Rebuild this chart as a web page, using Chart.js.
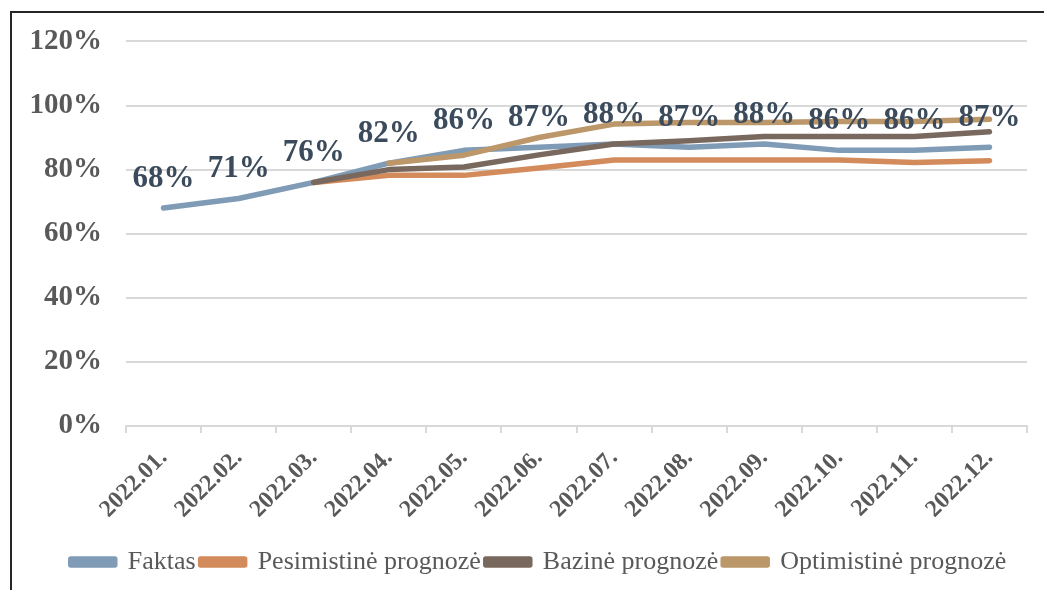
<!DOCTYPE html>
<html>
<head>
<meta charset="utf-8">
<script src="https://cdn.jsdelivr.net/npm/chart.js@4.4.1/dist/chart.umd.min.js"></script>
<style>
  html, body { margin: 0; padding: 0; background: #fff; }
  body { width: 1044px; height: 590px; position: relative; overflow: hidden; }
  #frame {
    position: absolute; left: 10px; top: 11px; width: 1100px; height: 700px;
    border-top: 2px solid #262626; border-left: 2px solid #262626;
  }
  #wrap { position: absolute; left: 0; top: 0; width: 1044px; height: 590px; }
</style>
</head>
<body>
<div id="frame"></div>
<div id="wrap"><canvas id="chart"></canvas></div>
<script>
const labels = ["2022.01.", "2022.02.", "2022.03.", "2022.04.", "2022.05.", "2022.06.",
  "2022.07.", "2022.08.", "2022.09.", "2022.10.", "2022.11.", "2022.12."];

const faktas = [68, 71, 76, 82, 86, 87, 88, 87, 88, 86, 86, 87];
const pesimistine = [null, null, 76, 78.2, 78.2, 80.5, 83, 83, 83, 83, 82.2, 82.8];
const bazine = [null, null, 76, 80, 80.8, 84.6, 88, 89, 90.3, 90.3, 90.3, 91.8];
const optimistine = [null, null, null, 82, 84.5, 90, 94.2, 94.7, 94.7, 95, 95, 95.7];

const yTicks = [0, 20, 40, 60, 80, 100, 120];

const grey = "#595959";
const gridColor = "#d9d9d9";

// value labels above the "Faktas" line
const valueLabels = {
  id: "valueLabels",
  afterDatasetsDraw(chart) {
    const meta = chart.getDatasetMeta(0);
    const ctx = chart.ctx;
    ctx.save();
    ctx.font = "bold 31px 'Liberation Serif'";
    ctx.fillStyle = "#3b4b5c";
    ctx.textAlign = "center";
    ctx.textBaseline = "alphabetic";
    meta.data.forEach((point, i) => {
      ctx.fillText(Math.round(faktas[i]) + "%", point.x, point.y - 21);
    });
    ctx.restore();
  }
};

// legend sits a little right of the canvas centre, like in the original
const legendShift = {
  id: "legendShift",
  afterLayout(chart) {
    chart.legend.left += 25;
    chart.legend.right += 25;
  }
};

const lineStyle = {
  borderWidth: 5.5,
  pointRadius: 0,
  pointHoverRadius: 0,
  tension: 0,
  fill: false,
  borderCapStyle: "round",
  borderJoinStyle: "round"
};

new Chart(document.getElementById("chart").getContext("2d"), {
  type: "line",
  data: {
    labels,
    datasets: [
      { label: "Faktas", data: faktas, borderColor: "#7f9bb5", backgroundColor: "#7f9bb5", order: 4, ...lineStyle },
      { label: "Pesimistinė prognozė", data: pesimistine, borderColor: "#d38b5c", backgroundColor: "#d38b5c", order: 3, ...lineStyle },
      { label: "Bazinė prognozė", data: bazine, borderColor: "#78685e", backgroundColor: "#78685e", order: 2, ...lineStyle },
      { label: "Optimistinė prognozė", data: optimistine, borderColor: "#bb976a", backgroundColor: "#bb976a", order: 1, ...lineStyle }
    ]
  },
  options: {
    responsive: true,
    maintainAspectRatio: false,
    animation: false,
    events: [],
    layout: { padding: { left: 0, right: 17, top: 40, bottom: 5 } },
    plugins: {
      tooltip: { enabled: false },
      legend: {
        position: "bottom",
        labels: {
          sort: (a, b) => a.datasetIndex - b.datasetIndex,
          boxWidth: 44,
          boxHeight: 6,
          padding: 5,
          color: grey,
          font: { family: "'Liberation Serif'", size: 26 }
        }
      }
    },
    scales: {
      x: {
        offset: true,
        afterFit: (scale) => { scale.height = 118; },
        grid: {
          offset: true,
          drawOnChartArea: false,
          drawTicks: true,
          tickLength: 7,
          color: gridColor,
          lineWidth: 2
        },
        border: { display: true, color: gridColor, width: 2 },
        ticks: {
          autoSkip: false,
          minRotation: 45,
          maxRotation: 45,
          padding: 11,
          color: grey,
          font: { family: "'Liberation Serif'", size: 24, weight: "bold" }
        }
      },
      y: {
        min: 0,
        max: 120,
        afterFit: (scale) => { scale.width = 126; },
        afterBuildTicks: (scale) => { scale.ticks = yTicks.map((v) => ({ value: v })); },
        grid: { color: gridColor, lineWidth: 2, drawTicks: false },
        border: { display: false },
        ticks: {
          padding: 24,
          color: grey,
          font: { family: "'Liberation Serif'", size: 29, weight: "bold" },
          callback: (value) => value + "%"
        }
      }
    }
  },
  plugins: [valueLabels, legendShift]
});
</script>
</body>
</html>
